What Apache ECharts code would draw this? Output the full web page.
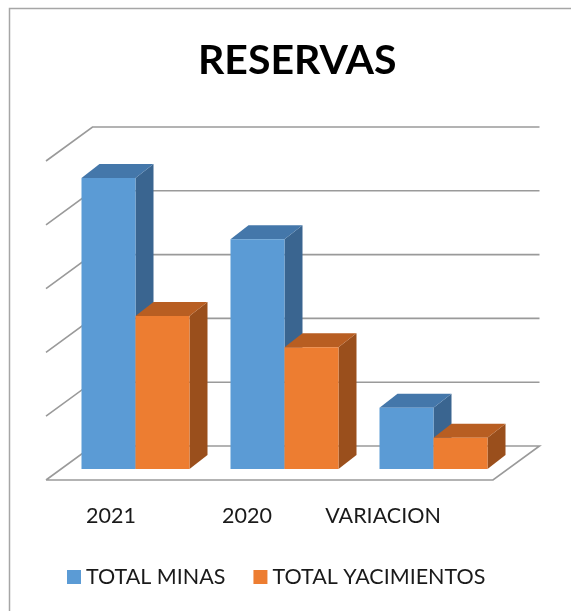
<!DOCTYPE html>
<html><head><meta charset="utf-8">
<script src="https://cdn.jsdelivr.net/npm/echarts@6/dist/echarts.min.js"></script>
<style>html,body{margin:0;padding:0;background:#fff}#c{width:571px;height:611px}</style>
</head><body><div id="c"></div>
<script>
const categories = ['2021', '2020', 'VARIACION'];
const totalMinas = [4.56, 3.60, 0.96];
const totalYacimientos = [2.40, 1.91, 0.49];
const valueTicks = [0, 1, 2, 3, 4, 5];
const seriesNames = ['TOTAL MINAS', 'TOTAL YACIMIENTOS'];

const FONT = 'Lato';
const DX = 18, DY = -14;           // bar depth
const FX = 15, FY = 11;            // front of floor relative to bar plane
const BX = 31.5, BY = 23;          // back wall relative to bar plane
const BAR_RATIO = 54 / 149;
const faces = [
  {front: '#5B9BD5', top: '#4477AA', side: '#3A6590'},
  {front: '#ED7D31', top: '#B85E22', side: '#9A4F1C'}
];

function barRender(si) {
  return function (params, api) {
    const ci = api.value(0), v = api.value(1);
    const p = api.coord([ci, v]);
    const p0 = api.coord([ci, 0]);
    const band = api.size([1, 0])[0];
    const w = band * BAR_RATIO;
    const x = p[0] - w + si * w;
    const yt = p[1], yb = p0[1];
    const f = faces[si];
    return {type: 'group', children: [
      {type: 'polygon', shape: {points: [[x + w, yb], [x + w, yt], [x + w + DX, yt + DY], [x + w + DX, yb + DY]]}, style: {fill: f.side}},
      {type: 'polygon', shape: {points: [[x, yt], [x + w, yt], [x + w + DX, yt + DY], [x + DX, yt + DY]]}, style: {fill: f.top}},
      {type: 'rect', shape: {x: x, y: yt, width: w, height: yb - yt}, style: {fill: f.front}}
    ]};
  };
}

function gridRender(params, api) {
  const v = api.value(1);
  const y = api.coord([0, v])[1];
  const cs = params.coordSys;
  const x0 = cs.x, x1 = cs.x + cs.width;
  const pts = v === 0
    ? [[x0 - FX, y + FY], [x1 - FX, y + FY], [x1 + BX, y - BY], [x0 + BX, y - BY], [x0 - FX, y + FY]]
    : [[x0 - FX, y + FY], [x0 + BX, y - BY], [x1 + BX, y - BY]];
  return {type: 'polyline', shape: {points: pts}, style: {stroke: '#9a9a9a', lineWidth: 1.6, fill: null}};
}

const chart = echarts.init(document.getElementById('c'));
chart.setOption({
  animation: false,
  backgroundColor: '#fff',
  graphic: [{type: 'rect', shape: {x: 9.5, y: 8.5, width: 800, height: 800}, style: {fill: null, stroke: '#a6a6a6', lineWidth: 1.5}, z: -10}],
  title: {text: 'RESERVAS', left: 193, top: 35, textStyle: {fontFamily: FONT, fontWeight: 'bold', fontSize: 41, color: '#000'}},
  legend: {
    data: seriesNames, left: 62, top: 561, itemWidth: 14, itemHeight: 14, itemGap: 28, icon: 'rect',
    textStyle: {fontFamily: FONT, fontSize: 21.5, color: '#1a1a1a'}
  },
  grid: [
    {left: 61, right: 63, top: 150, bottom: 142},
    {left: 43, width: 408, top: 490, height: 10}
  ],
  xAxis: [
    {gridIndex: 0, type: 'category', data: categories, show: false},
    {gridIndex: 1, type: 'category', data: categories, axisLine: {show: false}, axisTick: {show: false},
      axisLabel: {interval: 0, margin: 5, fontFamily: FONT, fontSize: 21.5, color: '#1a1a1a'}}
  ],
  yAxis: [
    {gridIndex: 0, type: 'value', min: 0, max: 5, interval: 1, show: false},
    {gridIndex: 1, type: 'value', show: false}
  ],
  series: [
    {type: 'custom', name: 'grid', xAxisIndex: 0, yAxisIndex: 0, renderItem: gridRender, clip: false, z: 1,
      data: valueTicks.map(v => [0, v]), silent: true},
    {type: 'custom', name: seriesNames[0], xAxisIndex: 0, yAxisIndex: 0, renderItem: barRender(0), clip: false, z: 2,
      itemStyle: {color: faces[0].front}, data: totalMinas.map((v, i) => [i, v])},
    {type: 'custom', name: seriesNames[1], xAxisIndex: 0, yAxisIndex: 0, renderItem: barRender(1), clip: false, z: 3,
      itemStyle: {color: faces[1].front}, data: totalYacimientos.map((v, i) => [i, v])}
  ]
});
</script></body></html>
